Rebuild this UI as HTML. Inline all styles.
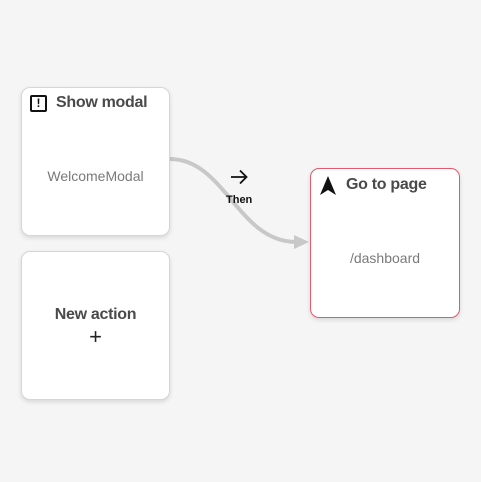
<!DOCTYPE html>
<html><head><style>
body{margin:0;width:481px;height:482px;background:#f5f5f5;position:relative;overflow:hidden;font-family:"Liberation Sans",sans-serif}
.card{position:absolute;background:#fff;border:1px solid #d6d6d6;border-radius:9px;box-shadow:0 2px 5px rgba(0,0,0,0.12);box-sizing:border-box}
.t{position:absolute;font-weight:bold;font-size:16px;color:#4a4a4a;white-space:nowrap;letter-spacing:-0.3px}
.s{position:absolute;width:100%;text-align:center;font-size:14px;color:#7a7a7a}
</style></head><body>
<svg width="481" height="482" style="position:absolute;left:0;top:0">
<path d="M170,159 C225,159 238,242 296,242" fill="none" stroke="#c8c8c8" stroke-width="4"/>
<polygon points="294,235 309,242 294,249" fill="#c8c8c8"/>
<path d="M231,177 H246 M240,170.5 L246.5,177 L240,183.5" fill="none" stroke="#111" stroke-width="1.8"/>
</svg>
<div class="card" style="left:21px;top:87px;width:149px;height:149px">
<div style="position:absolute;left:8px;top:7px;width:13px;height:13px;border:2px solid #111;border-radius:2px;font-size:12px;font-weight:bold;line-height:13px;text-align:center;color:#111">!</div>
<div class="t" style="left:34px;top:6px">Show modal</div>
<div class="s" style="top:80px">WelcomeModal</div>
</div>
<div class="card" style="left:21px;top:251px;width:149px;height:149px">
<div class="s" style="top:54px;font-weight:bold;font-size:16px;color:#4a4a4a;letter-spacing:-0.3px">New action</div>
<div class="s" style="top:72px;font-size:22px;color:#222">+</div>
</div>
<div class="card" style="left:310px;top:168px;width:150px;height:150px;border-color:#e35a6c">
<svg style="position:absolute;left:9px;top:7px" width="16" height="20"><polygon points="8,0 16,19 8,14 0,19" fill="#111"/></svg>
<div class="t" style="left:35px;top:7px">Go to page</div>
<div class="s" style="top:81px">/dashboard</div>
</div>
<div style="position:absolute;left:226px;top:194px;font-size:11px;color:#111;font-weight:bold">Then</div>
</body></html>
